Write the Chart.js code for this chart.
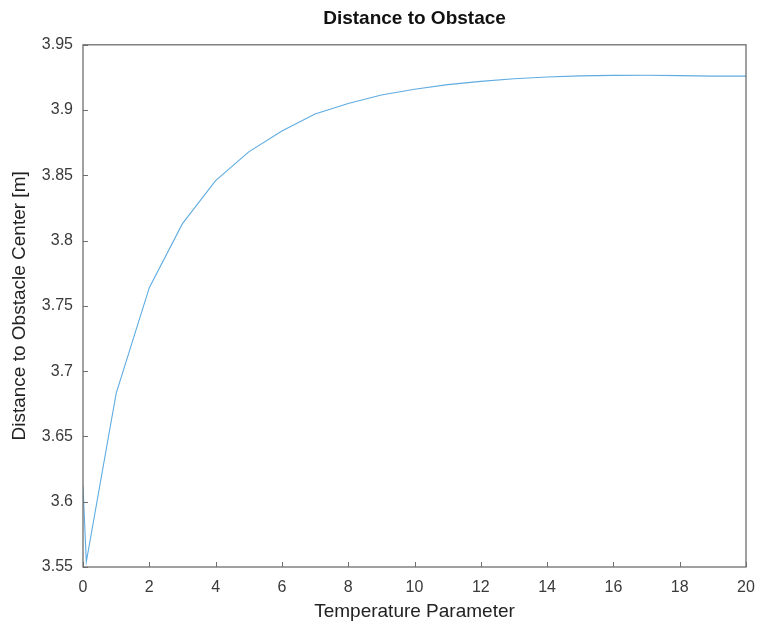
<!DOCTYPE html>
<html>
<head>
<meta charset="utf-8">
<script src="https://cdn.jsdelivr.net/npm/chart.js@4/dist/chart.umd.min.js"></script>
<style>
    body { margin: 0; background: #fff; }
    canvas { display: block; }
</style>
</head>
<body>
<canvas id="grafico" width="759" height="627"></canvas>
<script>
// valores
const temperaturas = [0, 0.1, 1, 2, 3, 4, 5, 6, 7, 8, 9, 10, 11, 12, 13, 14, 15, 16, 17, 18, 19, 20];
const distancias = [3.612, 3.554, 3.683, 3.764, 3.813, 3.846, 3.868, 3.884, 3.897, 3.905, 3.9115, 3.916, 3.9195, 3.922, 3.924, 3.9253, 3.9262, 3.9266, 3.9267, 3.9264, 3.926, 3.926];
const xTicks = [0, 2, 4, 6, 8, 10, 12, 14, 16, 18, 20];
const yTicks = [3.55, 3.6, 3.65, 3.7, 3.75, 3.8, 3.85, 3.9, 3.95];

const corEixo = '#6e6e6e';
const corTexto = '#3a3a3a';
const fonte = '"Liberation Sans", Arial, sans-serif';

// caixa e ticks para dentro (estilo octave)
const caixaPlugin = {
    id: 'caixa',
    afterDatasetsDraw(chart) {
        const { ctx, chartArea: a, scales } = chart;
        ctx.save();
        ctx.strokeStyle = corEixo;
        ctx.lineWidth = 1.3;
        ctx.strokeRect(a.left, a.top, a.right - a.left, a.bottom - a.top);
        ctx.lineWidth = 1;
        ctx.beginPath();
        xTicks.forEach(v => {
            const px = Math.round(scales.x.getPixelForValue(v)) + 0.5;
            ctx.moveTo(px, a.bottom);
            ctx.lineTo(px, a.bottom - 5);
        });
        yTicks.forEach(v => {
            const py = Math.round(scales.y.getPixelForValue(v)) + 0.5;
            ctx.moveTo(a.left, py);
            ctx.lineTo(a.left + 5, py);
        });
        ctx.stroke();
        ctx.restore();
    }
};

new Chart(document.getElementById('grafico'), {
    type: 'line',
    data: {
        datasets: [{
            data: temperaturas.map((t, i) => ({ x: t, y: distancias[i] })),
            borderColor: 'rgb(95,172,226)',
            borderWidth: 1.1,
            pointRadius: 0,
            fill: false,
            tension: 0
        }]
    },
    options: {
        responsive: false,
        animation: false,
        layout: { padding: { left: 0, right: 13, top: 0, bottom: 0 } },
        plugins: {
            legend: { display: false },
            tooltip: { enabled: false },
            title: {
                display: true,
                text: 'Distance to Obstace',
                fullSize: false,
                color: '#111',
                font: { family: fonte, size: 19, weight: 'bold', lineHeight: 1.2 },
                padding: { top: 7, bottom: 15 }
            }
        },
        scales: {
            x: {
                type: 'linear',
                min: 0,
                max: 20,
                afterBuildTicks: s => { s.ticks = xTicks.map(v => ({ value: v })); },
                afterFit: s => { s.height = 60; s.paddingLeft = 0; s.paddingRight = 0; },
                grid: { display: false, drawTicks: false },
                border: { display: false },
                ticks: {
                    color: corTexto,
                    padding: 11,
                    maxRotation: 0,
                    font: { family: fonte, size: 16 },
                    callback: v => String(v)
                },
                title: {
                    display: true,
                    text: 'Temperature Parameter',
                    color: '#222',
                    font: { family: fonte, size: 19, lineHeight: 1.2 },
                    padding: { top: 0, bottom: 4 }
                }
            },
            y: {
                type: 'linear',
                min: 3.55,
                max: 3.95,
                afterBuildTicks: s => { s.ticks = yTicks.map(v => ({ value: v })); },
                afterFit: s => { s.width = 83; },
                grid: { display: false, drawTicks: false },
                border: { display: false },
                ticks: {
                    color: corTexto,
                    padding: 10,
                    font: { family: fonte, size: 16 },
                    callback: v => String(+v.toFixed(2))
                },
                title: {
                    display: true,
                    text: 'Distance to Obstacle Center [m]',
                    color: '#222',
                    font: { family: fonte, size: 19, lineHeight: 1.2 },
                    padding: { top: 8, bottom: 0 }
                }
            }
        }
    },
    plugins: [caixaPlugin]
});
</script>
</body>
</html>
